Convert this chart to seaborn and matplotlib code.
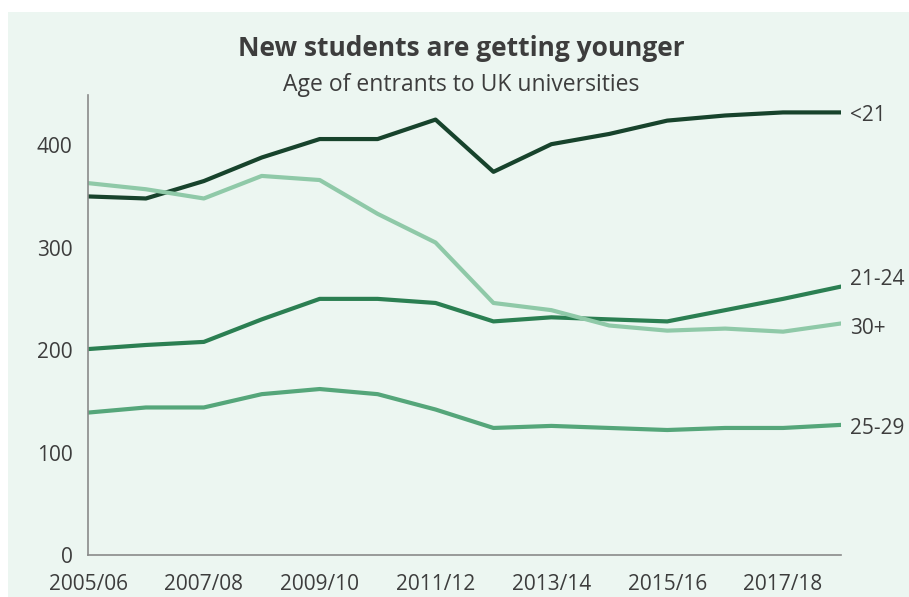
import pandas as pd
import matplotlib.pyplot as plt
import seaborn as sns
from matplotlib.patches import Rectangle

# data (thousands of entrants)
years = ["2005/06", "2006/07", "2007/08", "2008/09", "2009/10", "2010/11", "2011/12",
         "2012/13", "2013/14", "2014/15", "2015/16", "2016/17", "2017/18", "2018/19"]
under21 = [350, 348, 365, 388, 406, 406, 425, 374, 401, 411, 424, 429, 432, 432]
age21_24 = [201, 205, 208, 230, 250, 250, 246, 228, 232, 230, 228, 239, 250, 262]
age25_29 = [139, 144, 144, 157, 162, 157, 142, 124, 126, 124, 122, 124, 124, 127]
age30plus = [363, 357, 348, 370, 366, 333, 305, 246, 239, 224, 219, 221, 218, 226]

groups = ["<21", "21-24", "25-29", "30+"]
colors = ["#17432c", "#2b7f52", "#55a67a", "#8fc9a8"]

df = pd.DataFrame({"year": years, "<21": under21, "21-24": age21_24,
                   "25-29": age25_29, "30+": age30plus})
long = df.melt(id_vars="year", var_name="group", value_name="entrants")
long["x"] = long["year"].map({y: i for i, y in enumerate(years)})

sns.set_style("white")
plt.rcParams["font.family"] = ["Open Sans", "DejaVu Sans"]

bg = "#ecf6f1"
text_col = "#3d3d3d"

fig = plt.figure(figsize=(9.09, 5.97), dpi=100)
fig.patch.set_facecolor("white")
fig.patches.append(Rectangle((8 / 909, 0), 1, 1 - 12 / 597, transform=fig.transFigure,
                             facecolor=bg, edgecolor="none", zorder=-10))

ax = fig.add_axes([88 / 909, 1 - 555 / 597, (841 - 88) / 909, (555 - 95) / 597])
ax.set_facecolor(bg)

sns.lineplot(data=long, x="x", y="entrants", hue="group", hue_order=groups,
             palette=colors, linewidth=3, legend=False, ax=ax)

ax.set_xlim(0, len(years) - 1)
ax.set_ylim(0, 449)
ax.set_xticks(range(len(years)))
ax.set_xticklabels([y if i % 2 == 0 else "" for i, y in enumerate(years)])
ax.set_yticks([0, 100, 200, 300, 400])
ax.set_xlabel("")
ax.set_ylabel("")

for s in ["top", "right"]:
    ax.spines[s].set_visible(False)
for s in ["left", "bottom"]:
    ax.spines[s].set_color("#8a8a8a")
    ax.spines[s].set_linewidth(1.2)

ax.tick_params(axis="both", which="both", direction="out", length=7, width=1.2,
               color="#8a8a8a", labelsize=15, labelcolor=text_col, pad=4)
ax.tick_params(axis="x", pad=7)

# end-of-line labels
offsets = {"<21": -3, "21-24": 7, "25-29": -4, "30+": -5}
last = len(years) - 1
for g in groups:
    ax.annotate(g, xy=(last, df[g].iloc[-1]), xytext=(9, offsets[g]),
                textcoords="offset pixels", va="center", ha="left",
                fontsize=15, color=text_col, annotation_clip=False)

fig.text(461 / 909, 1 - 49 / 597, "New students are getting younger", ha="center",
         va="center", fontsize=19, fontweight="bold", color=text_col)
fig.text(461 / 909, 1 - 85 / 597, "Age of entrants to UK universities", ha="center",
         va="center", fontsize=16.5, color=text_col)

fig.savefig("out.png", dpi=100, facecolor=fig.get_facecolor())
